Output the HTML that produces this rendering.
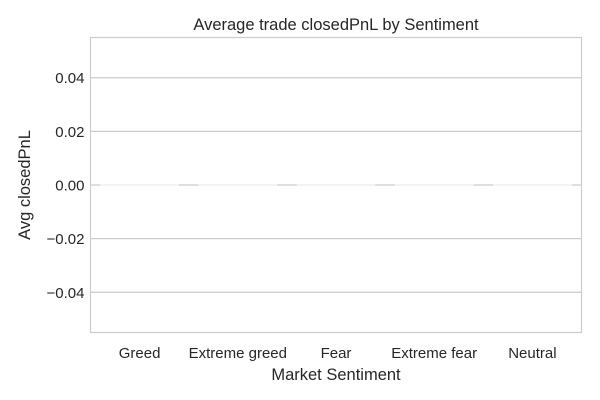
<!DOCTYPE html>
<html><head><meta charset="utf-8"><style>
body{margin:0;background:#fff;}
svg{display:block;font-family:"Liberation Sans","DejaVu Sans",sans-serif;}
</style></head><body>
<svg id="chart" width="600" height="400">
<rect x="0" y="0" width="600" height="400" fill="#fff"/>
<text x="336" y="30" text-anchor="middle" font-size="16.5" fill="#262626">Average trade closedPnL by Sentiment</text>
<g id="grid"></g><g id="bars"></g><g id="ticks"></g>
<rect x="90.5" y="37.5" width="491" height="295" fill="none" stroke="#ccc" stroke-width="1.2"/>
<text x="336" y="380" text-anchor="middle" font-size="16.5" fill="#262626">Market Sentiment</text>
<text transform="translate(30,185) rotate(-90)" text-anchor="middle" font-size="16.5" fill="#262626">Avg closedPnL</text>
</svg>
<script>
const categories=["Greed","Extreme greed","Fear","Extreme fear","Neutral"];
const values=[0,0,0,0,0];
const yTicks=[0.04,0.02,0,-0.02,-0.04];
const yTickLabels=["0.04","0.02","0.00","\u22120.02","\u22120.04"];
const NS="http://www.w3.org/2000/svg";
const L=90.5,R=581.5,T=37.5,B=332.5,yMin=-0.055,yMax=0.055;
function y(v){return B-(v-yMin)/(yMax-yMin)*(B-T);}
const band=(R-L)/categories.length;
function xc(i){return L+band*(i+0.5);}
function mk(t,a,p){const e=document.createElementNS(NS,t);for(const k in a)e.setAttribute(k,a[k]);p.appendChild(e);return e;}
const grid=document.getElementById('grid'),bars=document.getElementById('bars'),ticks=document.getElementById('ticks');
yTicks.forEach((v,i)=>{
 const g=mk('line',{x1:L,x2:R,y1:y(v),y2:y(v),stroke:'#ccc','stroke-width':1.2},grid);
 
 
 const t=mk('text',{x:L-6,y:y(v)+5.5,'text-anchor':'end','font-size':15,fill:'#262626'},ticks);
 t.textContent=yTickLabels[i];
 
 
});
categories.forEach((c,i)=>{
 const w=band*0.8,x0=xc(i)-w/2,y0=Math.min(y(values[i]),y(0)),h=Math.abs(y(values[i])-y(0));
 const r=mk('rect',{x:x0,y:y0,width:w,height:h,fill:'#4c72b0'},bars);
 
 
 const e=mk('line',{x1:x0,x2:x0+w,y1:y(values[i]),y2:y(values[i]),stroke:'#f5f5f5','stroke-width':1.4},bars);
 
 
 const t=mk('text',{x:xc(i),y:358,'text-anchor':'middle','font-size':15,fill:'#262626'},ticks);
 t.textContent=c;
 
 
});
</script>
</body></html>
